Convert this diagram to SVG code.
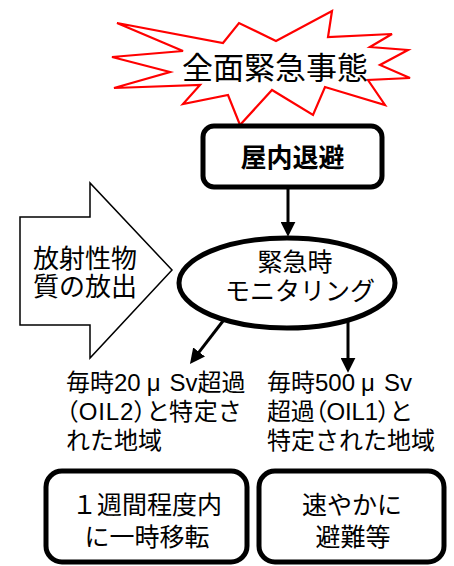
<svg xmlns="http://www.w3.org/2000/svg" width="454" height="566" viewBox="0 0 454 566">
<defs>
<style>
.t{font-family:'Liberation Sans','Noto Sans CJK JP',sans-serif;fill:#000;}
.p{font-feature-settings:"palt";}
.box{fill:#fff;stroke:#000;stroke-width:5;}
.con{stroke:#000;stroke-width:3;fill:none;}
</style>
<marker id="ah" viewBox="0 0 14 14" markerUnits="userSpaceOnUse" markerWidth="15" markerHeight="15" refX="4" refY="7" orient="auto">
<path d="M0,0 L14,7 L0,14 z" fill="#000"/>
</marker>
</defs>
<rect width="454" height="566" fill="#fff"/>
<g id="emergency">
<polygon points="117,23 223,43 239,23 276,41 332,11 328,37 392,34 370,47 408,50 380,65 410,78 368,80 385,105 325,87 313,115 272,90 240,125 228,95 183,104 200,85 114,88 170,72 112,57 183,51" fill="#fff" stroke="#ff0000" stroke-width="2.2" stroke-linejoin="miter"/>
<text class="t" x="275" y="79" font-size="31" text-anchor="middle">全面緊急事態</text>
</g>
<g id="shelter">
<rect class="box" x="203" y="126" width="179" height="61" rx="11"/>
<text class="t" x="292.5" y="167" font-size="26" font-weight="bold" text-anchor="middle">屋内退避</text>
</g>
<g id="release">
<polygon points="20,217 90,217 90,183 172,270 90,358 90,325 20,325" fill="#fff" stroke="#000" stroke-width="1.5"/>
<text class="t" x="85" y="268" font-size="26" text-anchor="middle">放射性物</text>
<text class="t" x="85" y="296" font-size="26" text-anchor="middle">質の放出</text>
</g>
<g id="monitoring">
<ellipse cx="287" cy="283" rx="108" ry="45" fill="#fff" stroke="#000" stroke-width="5"/>
<text class="t" x="295" y="271" font-size="25" text-anchor="middle">緊急時</text>
<text class="t" x="300" y="300" font-size="25" text-anchor="middle">モニタリング</text>
</g>
<g id="oil2-label">
<text class="t" x="66" y="391" font-size="24">毎時20<tspan dx="6">μ</tspan><tspan dx="9">Sv</tspan>超過</text>
<text class="t p" x="66" y="420" font-size="24" textLength="174" lengthAdjust="spacing">（OIL2）と特定さ</text>
<text class="t" x="66" y="449" font-size="24">れた地域</text>
</g>
<g id="oil1-label">
<text class="t" x="267" y="391" font-size="24">毎時500<tspan dx="6">μ</tspan><tspan dx="9">Sv</tspan></text>
<text class="t p" x="267" y="420" font-size="24" textLength="144" lengthAdjust="spacing">超過（OIL1）と</text>
<text class="t" x="267" y="449" font-size="24">特定された地域</text>
</g>
<g id="relocate">
<rect class="box" x="46" y="471" width="201" height="91" rx="16"/>
<text class="t" x="147" y="514" font-size="25" text-anchor="middle">１週間程度内</text>
<text class="t" x="147" y="546" font-size="25" text-anchor="middle">に一時移転</text>
</g>
<g id="evacuate">
<rect class="box" x="259" y="471" width="185" height="91" rx="16"/>
<text class="t" x="352" y="514" font-size="25" text-anchor="middle">速やかに</text>
<text class="t" x="353" y="546" font-size="25" text-anchor="middle">避難等</text>
</g>
<g id="connectors">
<line class="con" x1="288" y1="189" x2="288" y2="226" marker-end="url(#ah)"/>
<line class="con" x1="223" y1="321" x2="196.5" y2="355.4" marker-end="url(#ah)"/>
<line class="con" x1="348" y1="322" x2="348" y2="362" marker-end="url(#ah)"/>
</g>
</svg>
